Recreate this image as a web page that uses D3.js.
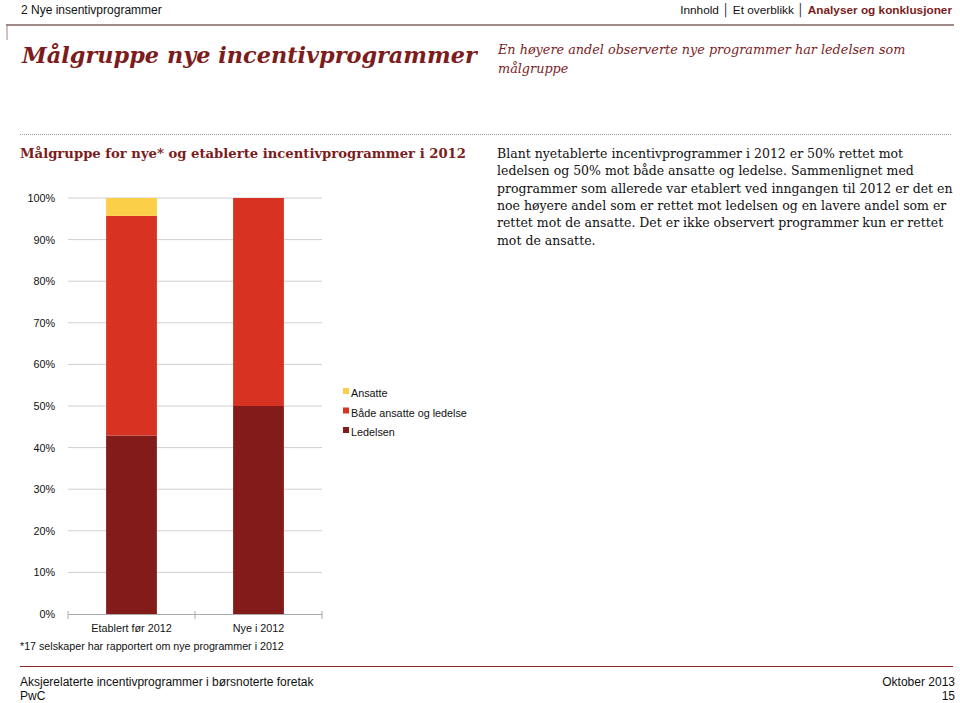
<!DOCTYPE html>
<html><head><meta charset="utf-8">
<script src="https://cdn.jsdelivr.net/npm/d3@7"></script>
<style>body{margin:0;background:#fff}svg{display:block}</style>
</head><body>
<script>
const categories = ["Etablert før 2012", "Nye i 2012"];
const seriesNames = ["Ledelsen", "Både ansatte og ledelse", "Ansatte"];
const ledelsen = [42.9, 50.0];
const begge = [52.8, 50.0];
const ansatte = [4.3, 0.0];
const yTicks = [0, 10, 20, 30, 40, 50, 60, 70, 80, 90, 100];
const colors = ["#841b1b", "#d73222", "#fccf48"];
const bodyLines = [
  "Blant nyetablerte incentivprogrammer i 2012 er 50% rettet mot",
  "ledelsen og 50% mot både ansatte og ledelse. Sammenlignet med",
  "programmer som allerede var etablert ved inngangen til 2012 er det en",
  "noe høyere andel som er rettet mot ledelsen og en lavere andel som er",
  "rettet mot de ansatte. Det er ikke observert programmer kun er rettet",
  "mot de ansatte."
];

const W = 960, H = 703;
const svg = d3.select("body").append("svg").attr("width", W).attr("height", H);
const dark = "#7c1c1c";
const sans = "Liberation Sans, Arial, sans-serif";
const serif = "DejaVu Serif, Georgia, serif";

// header
svg.append("text").attr("x", 21).attr("y", 14).attr("font-family", sans).attr("font-size", 12).attr("fill", "#111").text("2 Nye insentivprogrammer");
const nav = svg.append("text").attr("x", 952).attr("y", 14).attr("text-anchor", "end").attr("font-family", sans).attr("font-size", 11.8);
nav.append("tspan").attr("fill", "#111").text("Innhold ");
nav.append("tspan").attr("fill", "#111").text("│ Et overblikk ");
nav.append("tspan").attr("fill", "#111").text("│ ");
nav.append("tspan").attr("fill", dark).attr("font-weight", "bold").text("Analyser og konklusjoner");
svg.append("line").attr("x1", 6).attr("x2", 954).attr("y1", 25).attr("y2", 25).attr("stroke", "#9e8a87").attr("stroke-width", 2);
svg.append("line").attr("x1", 7).attr("x2", 7).attr("y1", 25).attr("y2", 40).attr("stroke", "#9e8a87").attr("stroke-width", 1);

svg.append("text").attr("x", 22).attr("y", 63).attr("font-family", serif).attr("font-size", 22.4).attr("font-style", "italic").attr("font-weight", "bold").attr("fill", dark).text("Målgruppe nye incentivprogrammer");
svg.append("text").attr("x", 498).attr("y", 54).attr("font-family", serif).attr("font-size", 12.8).attr("font-style", "italic").attr("fill", dark).text("En høyere andel observerte nye programmer har ledelsen som");
svg.append("text").attr("x", 498).attr("y", 73).attr("font-family", serif).attr("font-size", 12.8).attr("font-style", "italic").attr("fill", dark).text("målgruppe");

// dotted line
svg.append("line").attr("x1", 20).attr("x2", 952).attr("y1", 134.5).attr("y2", 134.5).attr("stroke", "#a89a98").attr("stroke-width", 1).attr("stroke-dasharray", "1,1");

svg.append("text").attr("x", 20).attr("y", 158).attr("font-family", serif).attr("font-size", 13.2).attr("font-weight", "bold").attr("fill", dark).text("Målgruppe for nye* og etablerte incentivprogrammer i 2012");

// body text
svg.append("g").selectAll("text").data(bodyLines).join("text")
  .attr("x", 497).attr("y", (d, i) => 158 + i * 17.3)
  .attr("font-family", serif).attr("font-size", 12.5).attr("fill", "#111").text(d => d);

// chart
const x = d3.scaleBand().domain(categories).range([68, 322]).paddingInner(0.6).paddingOuter(0.3);
const y = d3.scaleLinear().domain([0, 100]).range([614, 198]);

const g = svg.append("g");
g.selectAll("line.grid").data(yTicks.filter(t => t > 0)).join("line").attr("class", "grid")
  .attr("x1", 68).attr("x2", 322).attr("y1", d => y(d)).attr("y2", d => y(d))
  .attr("stroke", "#cfcfcf").attr("stroke-width", 1);

const yAxis = d3.axisLeft(y).tickValues(yTicks).tickFormat(d => d + "%").tickSize(0).tickPadding(13);
const ya = svg.append("g").attr("transform", "translate(68,0)").call(yAxis);
ya.select(".domain").remove();
ya.selectAll("text").attr("font-family", sans).attr("font-size", 10.8).attr("fill", "#111");

const rows = categories.map((c, i) => ({cat: c, Ledelsen: ledelsen[i], "Både ansatte og ledelse": begge[i], Ansatte: ansatte[i]}));
const stack = d3.stack().keys(seriesNames)(rows);
g.selectAll("g.s").data(stack).join("g").attr("fill", (d, i) => colors[i])
  .selectAll("rect").data(d => d).join("rect")
  .attr("x", d => x(d.data.cat)).attr("width", x.bandwidth())
  .attr("y", d => y(d[1])).attr("height", d => y(d[0]) - y(d[1]));

const xAxis = d3.axisBottom(x).tickSize(0).tickPadding(10);
const xa = svg.append("g").attr("transform", "translate(0,614)").call(xAxis);
xa.select(".domain").attr("stroke", "#aaa");
xa.selectAll("text").attr("font-family", sans).attr("font-size", 10.8).attr("fill", "#111");
const bounds = [68, 195, 322];
svg.append("g").selectAll("line").data(bounds).join("line")
  .attr("x1", d => d).attr("x2", d => d).attr("y1", 611).attr("y2", 619).attr("stroke", "#aaa");

// legend
const legend = svg.append("g");
const legItems = [{n: "Ansatte", c: colors[2]}, {n: "Både ansatte og ledelse", c: colors[1]}, {n: "Ledelsen", c: colors[0]}];
legItems.forEach((d, i) => {
  const yy = 393 + i * 19.5;
  legend.append("rect").attr("x", 343).attr("y", yy - 5).attr("width", 6).attr("height", 6).attr("fill", d.c);
  legend.append("text").attr("x", 351).attr("y", yy + 4).attr("font-family", sans).attr("font-size", 10.8).attr("fill", "#111").text(d.n);
});

// footnote & footer
svg.append("text").attr("x", 20).attr("y", 650).attr("font-family", sans).attr("font-size", 10.7).attr("fill", "#111").text("*17 selskaper har rapportert om nye programmer i 2012");
svg.append("line").attr("x1", 20).attr("x2", 953).attr("y1", 666.5).attr("y2", 666.5).attr("stroke", "#8b2a22").attr("stroke-width", 1.2);
svg.append("text").attr("x", 20).attr("y", 686).attr("font-family", sans).attr("font-size", 12).attr("fill", "#111").text("Aksjerelaterte incentivprogrammer i børsnoterte foretak");
svg.append("text").attr("x", 20).attr("y", 700).attr("font-family", sans).attr("font-size", 12).attr("fill", "#111").text("PwC");
svg.append("text").attr("x", 955).attr("y", 686).attr("text-anchor", "end").attr("font-family", sans).attr("font-size", 12).attr("fill", "#111").text("Oktober 2013");
svg.append("text").attr("x", 955).attr("y", 700).attr("text-anchor", "end").attr("font-family", sans).attr("font-size", 12).attr("fill", "#111").text("15");
</script>
</body></html>
